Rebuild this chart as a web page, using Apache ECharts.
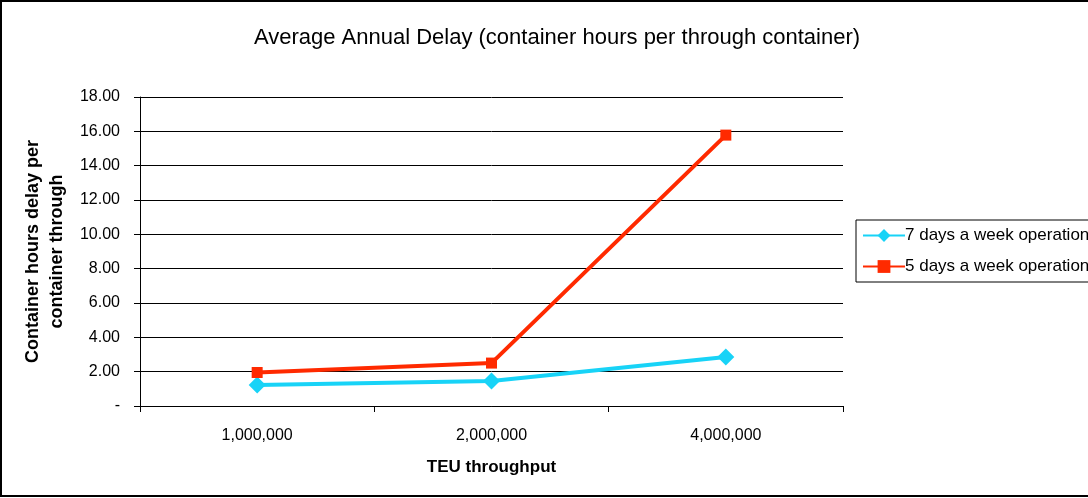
<!DOCTYPE html>
<html>
<head>
<meta charset="utf-8">
<script src="https://cdn.jsdelivr.net/npm/echarts@6/dist/echarts.min.js"></script>
<style>
  html, body { margin: 0; padding: 0; background: #fff; }
  #chart { width: 1088px; height: 498px; }
</style>
</head>
<body>
<div id="chart"></div>
<script>
  const categories = ['1,000,000', '2,000,000', '4,000,000'];
  const sevenDays = [1.22, 1.45, 2.85];
  const fiveDays = [1.95, 2.5, 15.78];
  const yTicks = ['-', '2.00', '4.00', '6.00', '8.00', '10.00', '12.00', '14.00', '16.00', '18.00'];

  const fnt = '"Liberation Sans", Arial, sans-serif';
  const chart = echarts.init(document.getElementById('chart'));

  chart.setOption({
    animation: false,
    textStyle: { fontFamily: fnt },
    title: {
      text: 'Average Annual Delay (container hours per through container)',
      left: 552, top: 22, textAlign: 'center',
      textStyle: { fontSize: 22, fontWeight: 'normal', color: '#000', fontFamily: fnt }
    },
    graphic: [{
      type: 'rect',
      shape: { x: 1, y: 1, width: 1100, height: 495 },
      style: { fill: 'none', stroke: '#000', lineWidth: 2 }
    }],
    legend: {
      orient: 'vertical',
      left: 856, top: 220,
      padding: [7, 6, 7, 6],
      itemGap: 14,
      itemWidth: 42, itemHeight: 16,
      borderColor: '#000', borderWidth: 1,
      textStyle: { fontSize: 17, color: '#000', fontFamily: fnt, padding: [0, 0, 0, -5] }
    },
    grid: { left: 140, right: 245, top: 97, bottom: 92 },
    xAxis: {
      type: 'category',
      data: categories,
      boundaryGap: true,
      name: 'TEU throughput',
      nameLocation: 'middle',
      nameGap: 53,
      nameTextStyle: { fontSize: 17, fontWeight: 'bold', color: '#000' },
      axisLine: { lineStyle: { color: '#000', width: 1 } },
      axisTick: { show: true, length: 6, lineStyle: { color: '#000' } },
      axisLabel: { fontSize: 16, color: '#000', margin: 22 }
    },
    yAxis: {
      type: 'value',
      min: 0, max: 18, interval: 2,
      name: 'Container hours delay per\ncontainer through',
      nameLocation: 'middle',
      nameGap: 68,
      nameTextStyle: { fontSize: 18, fontWeight: 'bold', color: '#000', lineHeight: 24 },
      axisLine: { show: true, lineStyle: { color: '#000', width: 1 } },
      axisTick: { show: true, length: 6, lineStyle: { color: '#000' } },
      axisLabel: {
        fontSize: 16, color: '#000', margin: 20,
        formatter: function (v) { return yTicks[Math.round(v / 2)]; }
      },
      splitLine: { show: true, lineStyle: { color: '#000', width: 1 } }
    },
    series: [{
      name: '7 days a week operation',
      type: 'line',
      data: sevenDays,
      symbol: 'diamond',
      symbolSize: 17,
      color: '#18d3f7',
      lineStyle: { width: 4, color: '#18d3f7' },
      itemStyle: { color: '#18d3f7' }
    }, {
      name: '5 days a week operation',
      type: 'line',
      data: fiveDays,
      symbol: 'rect',
      symbolSize: 11,
      color: '#ff2a00',
      lineStyle: { width: 4, color: '#ff2a00' },
      itemStyle: { color: '#ff2a00' }
    }]
  });
</script>
</body>
</html>
